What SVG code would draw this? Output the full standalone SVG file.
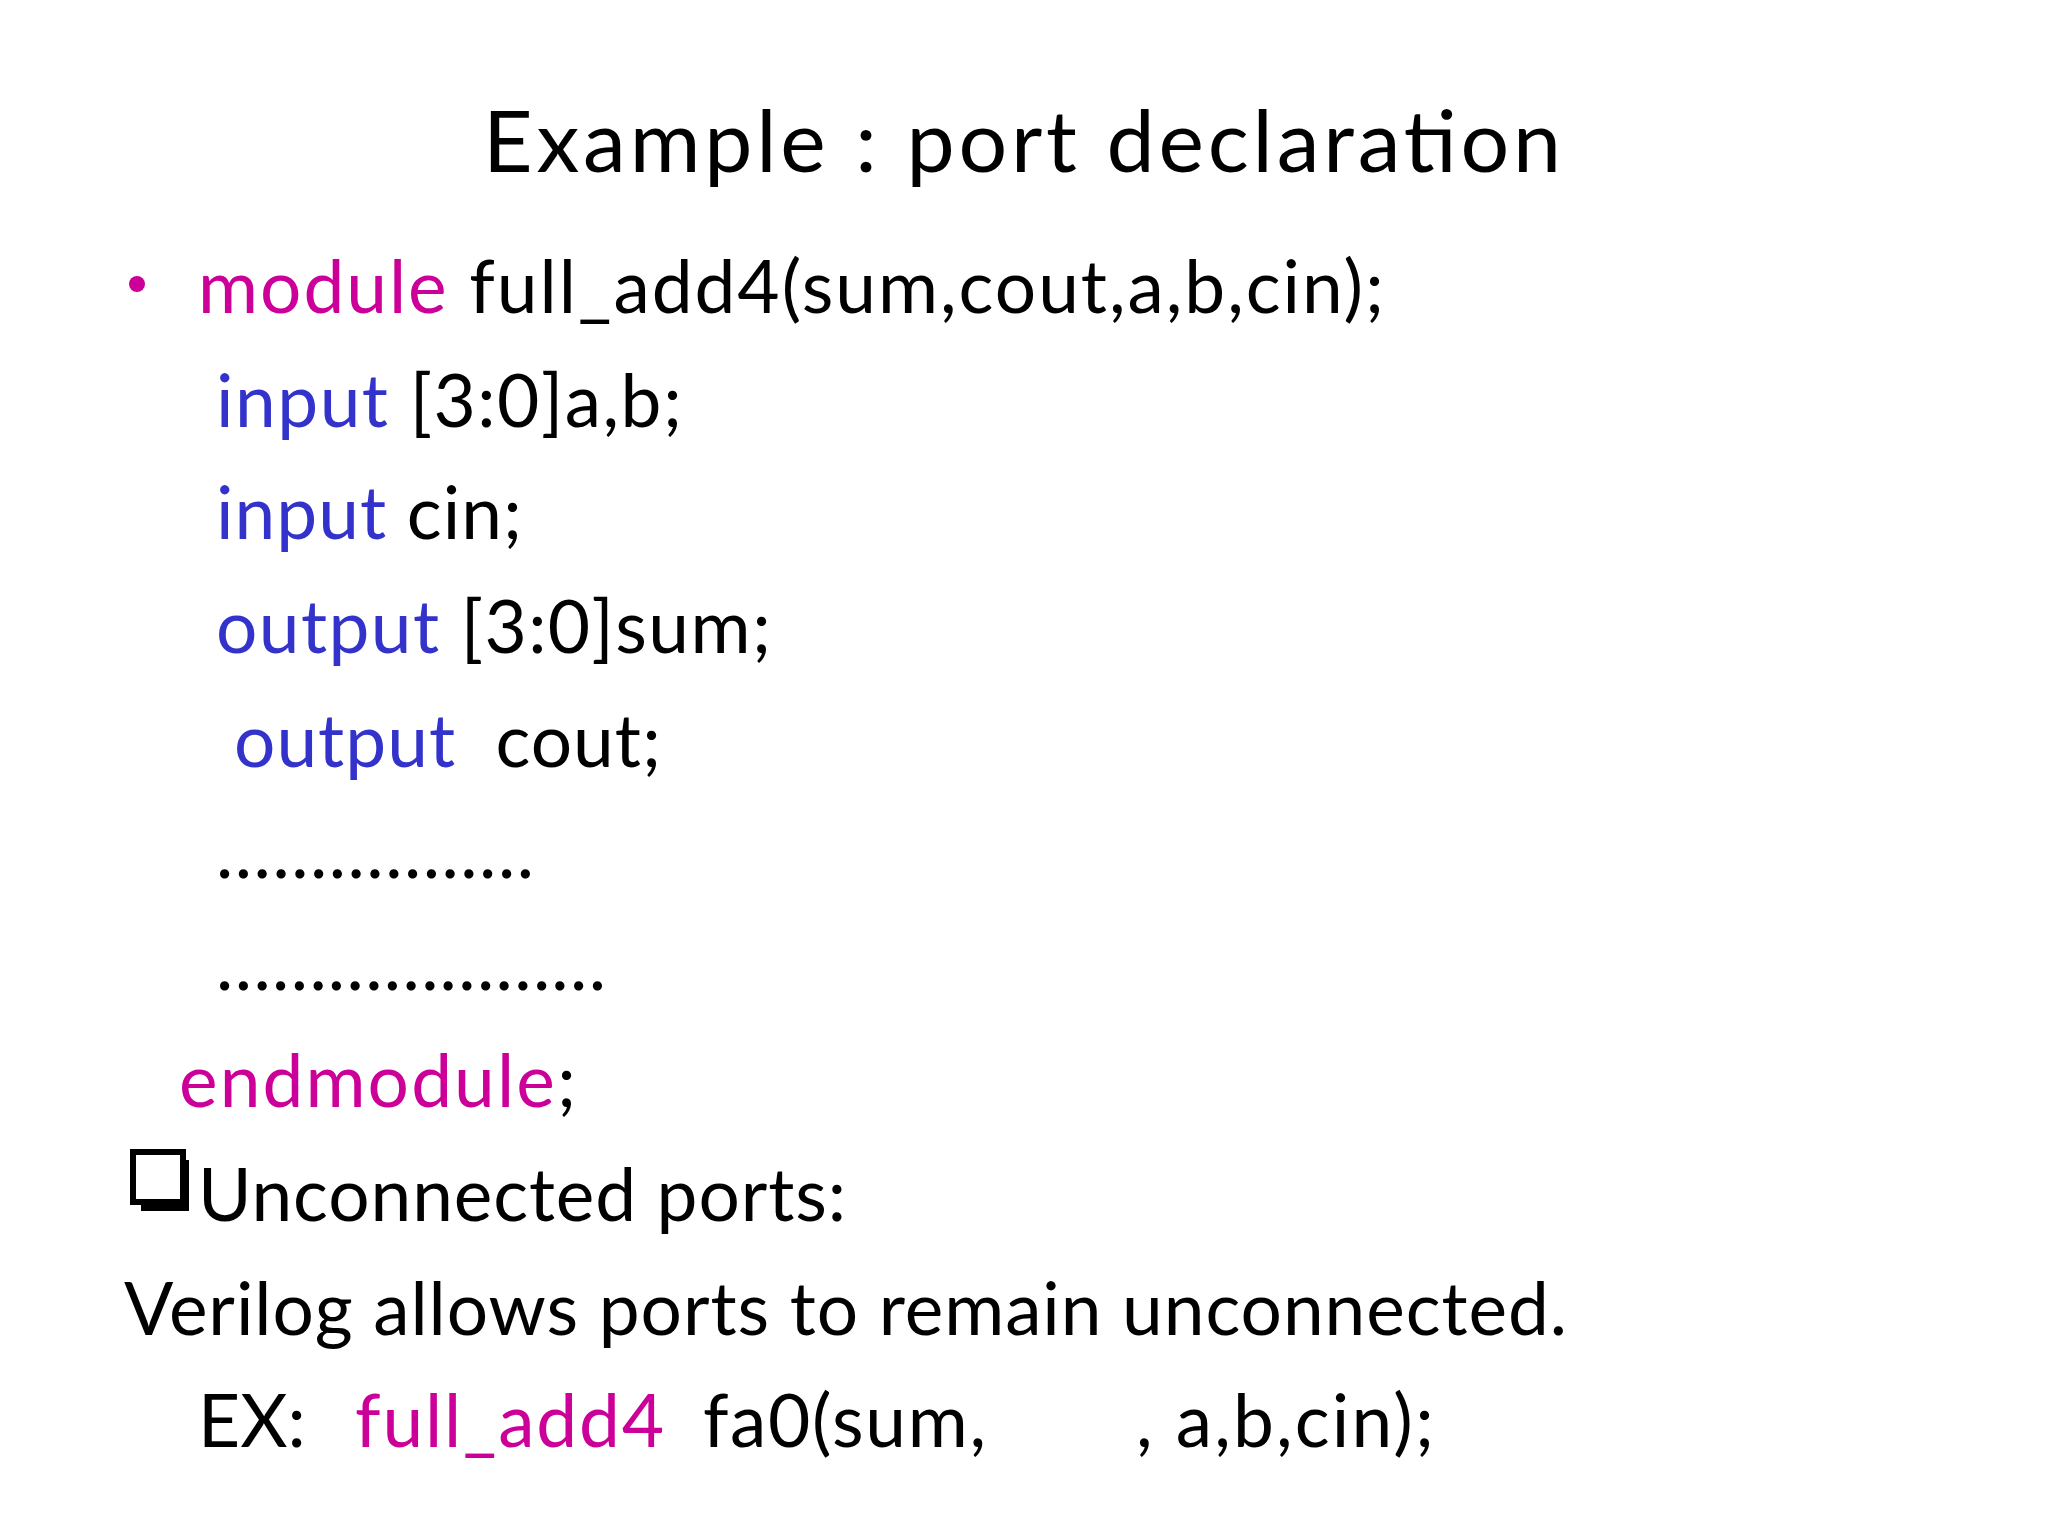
<svg xmlns="http://www.w3.org/2000/svg" width="2048" height="1536" viewBox="0 0 2048 1536">
<style>
text{font-family:Lato,"Open Sans","Liberation Sans",sans-serif;font-size:73px;fill:#000}
.t{font-size:86px}
.m{fill:#CC0099}
.b{fill:#3333CC}
</style>
<rect width="2048" height="1536" fill="#fff"/>
<g id="title"><text class="t" x="483" y="172" textLength="1078">Example : port declaration</text></g>
<g id="code">
<circle cx="137" cy="284" r="8" fill="#CC0099"/>
<text x="198" y="313" textLength="1186" xml:space="preserve"><tspan class="m">module</tspan> full_add4(sum,cout,a,b,cin);</text>
<text x="216" y="427" textLength="466" xml:space="preserve"><tspan class="b">input</tspan> [3:0]a,b;</text>
<text x="216" y="539" textLength="306" xml:space="preserve"><tspan class="b">input</tspan> cin;</text>
<text x="216" y="653" textLength="555" xml:space="preserve"><tspan class="b">output</tspan> [3:0]sum;</text>
<text x="234" y="767" textLength="427" xml:space="preserve"><tspan class="b">output</tspan>  cout;</text>
<text x="216" y="878" textLength="318">……………..</text>
<text x="216" y="990" textLength="390">…………………</text>
<text x="179" y="1107" textLength="397" xml:space="preserve"><tspan class="m">endmodule</tspan>;</text>
</g>
<g id="unconnected">
<rect x="133" y="1152" width="50" height="50" fill="none" stroke="#000" stroke-width="6"/>
<path d="M186 1160 V1208 H141" fill="none" stroke="#000" stroke-width="6"/>
<text x="198" y="1221" textLength="648">Unconnected ports:</text>
<text x="124" y="1335" textLength="1443">Verilog allows ports to remain unconnected.</text>
<text x="198" y="1447">EX:</text>
<text x="355" y="1447" class="m" textLength="309">full_add4</text>
<text x="703" y="1447" textLength="283">fa0(sum,</text>
<text x="1136" y="1447" textLength="298">, a,b,cin);</text>
</g>
</svg>
